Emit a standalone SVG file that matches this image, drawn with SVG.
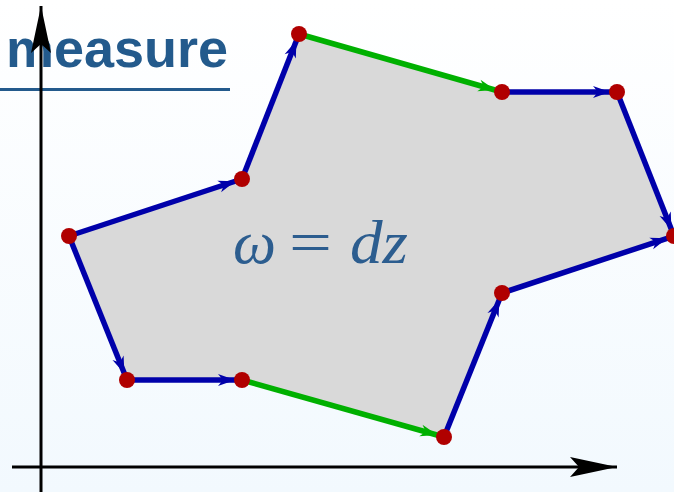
<svg xmlns="http://www.w3.org/2000/svg" width="674" height="492" viewBox="0 0 674 492">
  <defs>
    <linearGradient id="bg" x1="0" y1="0" x2="0" y2="1">
      <stop offset="0" stop-color="#ffffff"/>
      <stop offset="1" stop-color="#f2f9fe"/>
    </linearGradient>
    <marker id="ab" markerUnits="userSpaceOnUse" markerWidth="40" markerHeight="20" refX="0" refY="0" orient="auto" overflow="visible">
      <path d="M-7,0 L-24,-6 L-19,0 L-24,6 Z" fill="#0000aa"/>
    </marker>
    <marker id="ag" markerUnits="userSpaceOnUse" markerWidth="40" markerHeight="20" refX="0" refY="0" orient="auto" overflow="visible">
      <path d="M-7,0 L-24,-6 L-19,0 L-24,6 Z" fill="#00b000"/>
    </marker>
    <marker id="ax" markerUnits="userSpaceOnUse" markerWidth="60" markerHeight="30" refX="0" refY="0" orient="auto" overflow="visible">
      <path d="M0,0 L-47,-10 L-38,0 L-47,10 Z" fill="#000"/>
    </marker>
  </defs>
  <style>
    .blue { stroke: #0000aa; stroke-width: 5.5; fill: none; marker-end: url(#ab); }
    .green { stroke: #00b000; stroke-width: 5.5; fill: none; marker-end: url(#ag); }
    .axis { stroke: #000; stroke-width: 3; fill: none; marker-end: url(#ax); }
    .dot { fill: #b00000; }
    .math { font-family: "Liberation Serif", "DejaVu Serif", serif; font-size: 62px; fill: #2c5d8f; }
  </style>
  <rect x="0" y="0" width="674" height="492" fill="url(#bg)"/>

  <g id="title">
    <text x="6" y="67" font-family="Liberation Sans, Arial, sans-serif" font-weight="bold" font-size="54" fill="#235a8c">measure</text>
    <rect x="0" y="88" width="230" height="3" fill="#235a8c"/>
  </g>

  <g id="region">
    <polygon points="69,236 242,179 299,34 502,92 617,92 674,236 502,293 444,437 242,380 127,380" fill="#d9d9d9"/>
  </g>

  <g id="axes">
    <line class="axis" x1="41" y1="492" x2="41" y2="6"/>
    <line class="axis" x1="12" y1="467" x2="617" y2="467"/>
  </g>

  <g id="connectors">
    <line class="blue" x1="69" y1="236" x2="242" y2="179"/>
    <line class="blue" x1="242" y1="179" x2="299" y2="34"/>
    <line class="green" x1="299" y1="34" x2="502" y2="92"/>
    <line class="blue" x1="502" y1="92" x2="617" y2="92"/>
    <line class="blue" x1="617" y1="92" x2="674" y2="236"/>
    <line class="blue" x1="502" y1="293" x2="674" y2="236"/>
    <line class="blue" x1="444" y1="437" x2="502" y2="293"/>
    <line class="green" x1="242" y1="380" x2="444" y2="437"/>
    <line class="blue" x1="127" y1="380" x2="242" y2="380"/>
    <line class="blue" x1="69" y1="236" x2="127" y2="380"/>
  </g>

  <g id="points">
    <circle id="pA" class="dot" cx="69" cy="236" r="8"/>
    <circle id="pB" class="dot" cx="242" cy="179" r="8"/>
    <circle id="pC" class="dot" cx="299" cy="34" r="8"/>
    <circle id="pD" class="dot" cx="502" cy="92" r="8"/>
    <circle id="pE" class="dot" cx="617" cy="92" r="8"/>
    <circle id="pF" class="dot" cx="674" cy="236" r="8"/>
    <circle id="pG" class="dot" cx="502" cy="293" r="8"/>
    <circle id="pH" class="dot" cx="444" cy="437" r="8"/>
    <circle id="pI" class="dot" cx="242" cy="380" r="8"/>
    <circle id="pJ" class="dot" cx="127" cy="380" r="8"/>
  </g>

  <g id="formula">
    <text class="math" x="233" y="263" font-style="italic" textLength="43" lengthAdjust="spacingAndGlyphs">ω</text>
    <text class="math" x="289" y="263" textLength="43" lengthAdjust="spacingAndGlyphs">=</text>
    <text class="math" x="350" y="263" font-style="italic" textLength="58" lengthAdjust="spacingAndGlyphs">dz</text>
  </g>
</svg>
